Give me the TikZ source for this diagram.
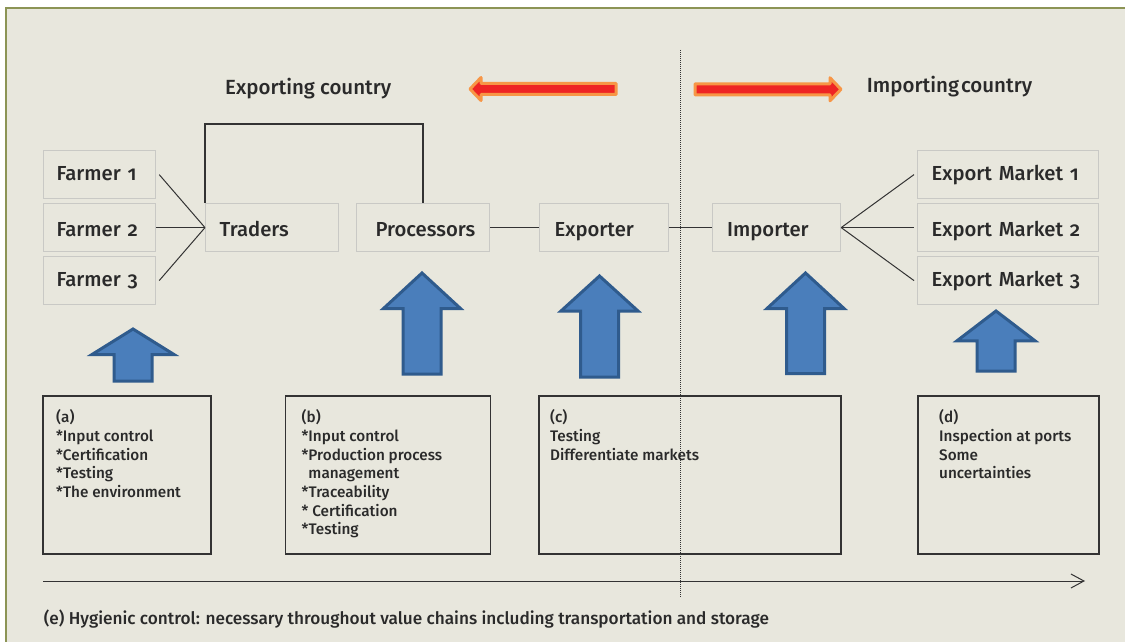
\documentclass[tikz,border=0pt]{standalone}
\usepackage{fontspec}
\IfFontExistsTF{Fira Sans Medium}
  {\setmainfont{Fira Sans Medium}[Numbers=OldStyle]}
  {\setmainfont{Fira Sans}[Numbers=OldStyle]}
\usetikzlibrary{arrows.meta}
\definecolor{bg}{HTML}{E8E7DD}
\definecolor{olive}{HTML}{8C9455}
\definecolor{boxline}{HTML}{C9C9C5}
\definecolor{ink}{HTML}{2A2A2A}
\definecolor{lineclr}{HTML}{333333}
\definecolor{arrred}{HTML}{EE2424}
\definecolor{arrorange}{HTML}{F79646}
\definecolor{blueF}{HTML}{4A7EBB}
\definecolor{blueD}{HTML}{2F5B8D}
\newcommand\blueup[6]{\draw[bluearr] (#1,#2) -- (#1+#5,#3) -- (#1+#6,#3) -- (#1+#6,#4) -- (#1-#6,#4) -- (#1-#6,#3) -- (#1-#5,#3) -- cycle;}
\begin{document}
\begin{tikzpicture}[x=1pt,y=-1pt,
  lbl/.style={draw=boxline, line width=1.2pt, fill=bg, text=ink,
    font=\fontsize{20.3}{24}\selectfont, anchor=north west, inner xsep=13pt, inner ysep=0pt,
    minimum height=48pt, text height=12pt, text depth=0pt, align=left},
  mid/.style={text height=18pt},
  conn/.style={draw=lineclr, line width=1pt},
  ctlbox/.style={draw=lineclr, line width=1.5pt, anchor=north west, inner sep=0pt},
  ctltext/.style={anchor=north west, inner sep=0pt, text=ink, align=left,
    font=\fontsize{15.3}{18.7}\selectfont},
  title/.style={anchor=base west, inner sep=0pt, text=ink, font=\fontsize{20.5}{24}\selectfont},
  bluearr/.style={fill=blueF, draw=blueD, line width=3pt, line join=miter},
  redarr/.style={fill=arrred, draw=arrorange, line width=3pt, line join=round}
]
\useasboundingbox (0,0) rectangle (1125,642);
\fill[white] (0,0) rectangle (1125,642);
\fill[bg] (6,8) rectangle (1125,642);
\draw[olive, line width=2.2pt] (6,642) -- (6,8) -- (1125,8);

% titles
\node[title] (exp) at (225,94.3) {Exporting country};
\node[title] (imp) at (866.7,92.3) {Importing\hspace{2pt}country};

% red arrows
\draw[redarr] (470,89) -- (481,77.5) -- (481,83.5) -- (616,83.5) -- (616,94.5) -- (481,94.5) -- (481,100.5) -- cycle;
\draw[redarr] (841,89.3) -- (830,77.8) -- (830,83.8) -- (695,83.8) -- (695,94.8) -- (830,94.8) -- (830,100.8) -- cycle;

% dotted divider
\coordinate (dvt) at (680,50);
\coordinate (dvb) at (680,598);
\draw[lineclr, densely dotted, line width=1pt] (dvt) -- (dvb);

% chain boxes
\node[lbl, text width=86pt] (f1) at (43,150) {Farmer 1};
\node[lbl, mid, text width=86pt] (f2) at (43,203) {Farmer 2};
\node[lbl, text width=86pt] (f3) at (43,256) {Farmer 3};
\node[lbl, mid, inner xsep=14pt, text width=105pt] (tr) at (205,203) {Traders};
\node[lbl, mid, inner xsep=19pt, text width=95pt] (pr) at (356,203) {Processors};
\node[lbl, mid, inner xsep=15pt, text width=99pt] (ex) at (539,203) {Exporter};
\node[lbl, mid, inner xsep=14.5pt, text width=99pt] (im) at (712,203) {Importer};
\node[lbl, inner xsep=14pt, text width=153pt] (m1) at (917,150) {Export Market 1};
\node[lbl, mid, inner xsep=14pt, text width=153pt] (m2) at (917,203) {Export Market 2};
\node[lbl, inner xsep=14pt, text width=153pt] (m3) at (917,256) {Export Market 3};

% connectors
\draw[conn] ([xshift=3pt]f1.east) -- (tr.west);
\draw[conn] (f2.east) -- (tr.west);
\draw[conn] ([xshift=3pt]f3.east) -- (tr.west);
\coordinate (brk) at (0,124);
\draw[conn, line width=1.5pt] (tr.north west) |- (pr.north |- brk) -- (pr.north);
\draw[conn] (pr.east) -- (ex.west);
\draw[conn] (ex.east) -- (im.west);
\draw[conn] (im.east) -- ([xshift=-3pt]m1.west);
\draw[conn] (im.east) -- ([xshift=-3pt]m2.west);
\draw[conn] (im.east) -- ([xshift=-3pt]m3.west);

% blue arrows
\blueup{133}{329}{354.5}{381}{41}{19}
\blueup{422}{273}{308.5}{374}{38.5}{19}
\blueup{599.5}{276}{311}{377}{38.5}{19}
\blueup{805.5}{273}{308.5}{373.5}{38.5}{19}
\blueup{996}{311}{340.8}{371}{39}{19}

% control boxes
\node[ctlbox, minimum width=168pt, minimum height=158pt] (ba) at (42,395) {};
\node[ctlbox, minimum width=205pt, minimum height=158pt] (bb) at (284.5,395) {};
\node[ctlbox, minimum width=302pt, minimum height=158pt] (bc) at (538,395) {};
\node[ctlbox, minimum width=181pt, minimum height=158pt] (bd) at (917,395) {};

\node[ctltext] (ta) at (56,409.5) {(a)\\*Input control\\*Certification\\*Testing\\*The environment};
\node[ctltext] (tb) at (301.5,409.5) {(b)\\*Input control\\*Production process\\\phantom{*}management\\*Traceability\\* Certification\\*Testing};
\node[ctltext] (tc) at (550,409.5) {(c)\\Testing\\Differentiate markets};
\node[ctltext] (td) at (939,409.5) {(d)\\Inspection at ports\\Some\\uncertainties};

% axis
\coordinate (axs) at (43,581);
\coordinate (axe) at (1085,581);
\draw[lineclr, line width=1pt, -{Straight Barb[length=13pt,width=14pt]}] (axs) -- (axe);

\node[anchor=base west, inner sep=0pt, text=ink, font=\fontsize{17.2}{20}\selectfont] (note) at (43.7,624.3)
  {(e) Hygienic control: necessary throughout value chains including transportation and storage};
\end{tikzpicture}
\end{document}
